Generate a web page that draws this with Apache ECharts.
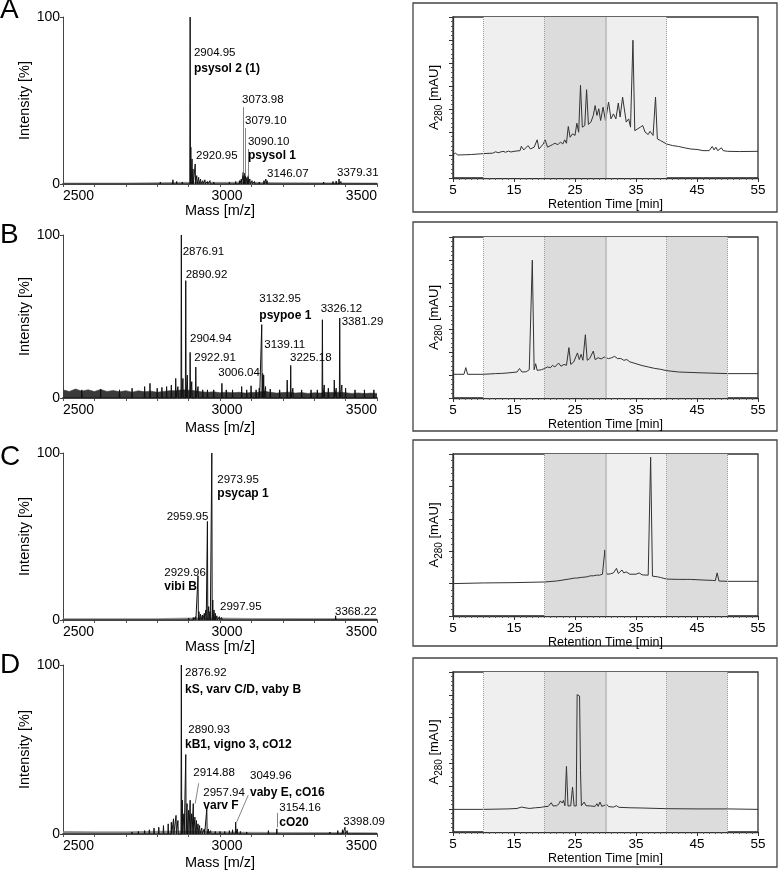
<!DOCTYPE html>
<html><head><meta charset="utf-8">
<script src="https://cdn.jsdelivr.net/npm/echarts@6/dist/echarts.min.js"></script>
<style>html,body{margin:0;padding:0;background:#fff}#c{width:781px;height:871px}</style>
</head><body><div id="c"></div>
<script>
const FONT = '"Liberation Sans", Arial, sans-serif';
const panelLetters = ['A', 'B', 'C', 'D'];
const massTickLabels = [2500, 3000, 3500];
const rtTickLabels = [5, 15, 25, 35, 45, 55];

// ---- mass spectra: [m/z, intensity %] ----
const peaksA = [[2750,0.8],[2810,1.2],[2850,2.5],[2862,1.5],[2880,1.2],[2904.95,100],[2907,22],[2911,15],[2914,9],[2921,12],[2926,5],[2932,4],[2938,3],[2945,2],[2952,2.5],[2960,1.5],[2968,2],[2980,1.2],[2995,1],[3010,1],[3030,1.2],[3050,1.5],[3062,2],[3068,3],[3074,7],[3077,6.5],[3081,5],[3086,4],[3090,5],[3095,3],[3102,2],[3110,1.5],[3125,1.2],[3140,2],[3146,3],[3150,2],[3170,1],[3200,1],[3250,0.8],[3300,0.8],[3330,1.2],[3360,1.5],[3370,1.8],[3379,3],[3385,1.5],[3420,0.8],[3460,0.8]];
const peaksB = [[2560,5],[2620,5.5],[2680,5],[2720,6],[2760,7],[2777,9],[2800,6],[2815,6.5],[2830,7],[2845,8],[2859,12],[2866,7],[2876.91,100],[2882,12],[2890.92,72],[2896,14],[2904.94,28],[2910,10],[2922.91,19],[2930,7],[2945,5],[2960,5],[2980,5],[3006.04,9],[3020,5],[3040,5],[3069,7],[3085,5],[3099,7.5],[3115,5],[3125,6],[3132.95,45],[3136,15],[3139.11,14],[3145,7],[3160,5.5],[3190,5],[3214,11],[3225.18,20],[3232,6],[3260,5],[3290,5],[3310,5],[3326.12,48],[3332,8],[3345,6],[3364,11],[3370,6],[3381.29,49],[3388,8],[3400,6],[3430,5],[3460,5],[3490,5]];
const peaksC = [[2700,0.5],[2800,0.8],[2860,1.0],[2900,1.2],[2915,1.5],[2922,2],[2929.96,26.5],[2933,5],[2938,3.5],[2944,3],[2950,4],[2955,6],[2959.95,59],[2964,8],[2968,5],[2973.95,100],[2977,12],[2981,6],[2985,4],[2990,2.5],[2997.95,2],[3005,1.5],[3020,1],[3040,0.8],[3060,0.8],[3100,0.6],[3150,0.8],[3200,0.5],[3300,0.5],[3360,1],[3368.22,2.5],[3375,1],[3420,0.6]];
const peaksD = [[2560,0.5],[2620,0.6],[2680,0.8],[2720,1.2],[2740,1.5],[2760,2],[2775,2.5],[2790,3.5],[2805,4],[2820,5],[2835,6],[2845,7],[2852,9],[2860,11],[2866,8],[2876.92,100],[2880,20],[2885,12],[2890.93,47],[2895,18],[2900,14],[2905,20],[2910,12],[2914.88,18],[2920,10],[2925,8],[2930,6],[2935,5],[2942,3.5],[2950,3],[2957.94,15],[2963,3],[2970,2],[2985,1.5],[3000,1.5],[3015,1.5],[3030,2],[3040,2.5],[3049.96,7],[3055,3],[3065,1.5],[3085,1.2],[3110,1],[3130,1],[3154.16,2],[3181,3],[3200,0.8],[3250,0.8],[3300,0.8],[3350,1.2],[3375,2],[3390,2.5],[3398.09,4],[3405,2],[3420,1],[3450,0.8]];

// baseline / noise envelopes [m/z, level %]
const noiseA = [[2500,0.6],[2700,0.6],[2800,0.8],[2900,1],[3000,1],[3100,1],[3200,0.8],[3500,0.6]];
const noiseB = [[2500,5],[2520,4],[2540,5.5],[2560,4.2],[2580,5],[2600,4],[2620,5.2],[2640,4],[2660,4.6],[2680,3.8],[2700,4.5],[2720,3.6],[2740,4.4],[2760,3.8],[2780,4.2],[2800,3.5],[2820,4],[2840,4.5],[2860,4.5],[2880,5],[2900,4.8],[2920,4.5],[2940,3.8],[2960,3.5],[2980,3.8],[3000,3.2],[3020,3.6],[3040,3.2],[3060,3.5],[3080,3],[3100,3.4],[3120,3.5],[3140,4.2],[3160,3.5],[3180,3],[3200,3.3],[3220,3.6],[3240,3],[3260,3.3],[3280,2.8],[3300,3.2],[3320,3],[3340,3.5],[3360,3.4],[3380,3.6],[3400,3.2],[3420,2.8],[3440,3.1],[3460,2.7],[3480,3],[3500,2.8]];
const noiseC = [[2500,0.8],[2800,0.8],[2900,1.2],[3000,1.2],[3100,0.9],[3500,0.8]];
const noiseD = [[2500,1.5],[2600,1.3],[2700,1.3],[2800,1.6],[2900,1.8],[3000,1.3],[3100,1],[3200,0.9],[3500,0.8]];

// peak annotations [m/z, intensity, text, bold, align]
const labelsA = [[2917,78.4,'2904.95',0],[2917,68.9,'psysol 2 (1)',1],[3070,50.3,'3073.98',0],[3079.6,37.7,'3079.10',0],[3089,25.1,'3090.10',0],[3089,16.8,'psysol 1',1],[2923.6,16.8,'2920.95',0],[3149.7,6.0,'3146.07',0],[3372.6,6.6,'3379.31',0]];
const labelsB = [[2881.2,89.8,'2876.91',0],[2890.8,75.5,'2890.92',0],[3125.2,60.6,'3132.95',0],[3125.2,50.3,'psypoe 1',1],[3320.7,55.0,'3326.12',0],[3387.6,46.8,'3381.29',0],[2904.5,36.0,'2904.94',0],[3141.1,32.5,'3139.11',0],[2918.2,24.4,'2922.91',0],[3222.9,24.4,'3225.18',0],[2994.6,15.2,'3006.04',0]];
const labelsC = [[2991.4,83.8,'2973.95',0],[2991.4,75.9,'psycap 1',1],[2962.7,61.9,'2959.95',0,'right'],[2822.6,28.0,'2929.96',0],[2822.6,19.9,'vibi B',1],[3000,8.0,'2997.95',0],[3366.2,5.0,'3368.22',0]];
const labelsD = [[2888.5,95.1,'2876.92',0],[2888.5,85.3,'kS, varv C/D, vaby B',1],[2899,61.8,'2890.93',0],[2888.5,52.9,'kB1, vigno 3, cO12',1],[2915,36.3,'2914.88',0],[2946.8,24.1,'2957.94',0],[2946.8,16.6,'varv F',1],[3095.5,34.3,'3049.96',0],[3095.5,24.5,'vaby E, cO16',1],[3188.9,15.7,'3154.16',0],[3188.9,6.9,'cO20',1],[3392.7,7.2,'3398.09',0]];

const leadersA = [[[3073,46],[3073,5]],[[3082,33.5],[3082,5]],[[3090,21],[3090,4]]];
const leadersB = [];
const leadersC = [];
const leadersD = [[[2932,30],[2921,18]],[[3090,23],[3053,7]],[[3181,12.5],[3181,4]]];

// ---- chromatograms: [retention time min, A280 (axis units)] ----
const chromA = [[5,1.02],[5.4,1.08],[5.8,1.00],[8,1.02],[10,1.06],[11.5,1.08],[12,1.14],[12.4,1.10],[13.2,1.16],[13.6,1.12],[14.1,1.17],[14.5,1.13],[15,1.16],[16,1.19],[16.2,1.38],[16.6,1.22],[17.3,1.41],[17.7,1.26],[18.3,1.34],[18.8,1.66],[19.1,1.26],[19.8,1.48],[20.1,1.66],[20.5,1.34],[21.3,1.45],[21.7,1.51],[22.2,1.45],[22.6,1.56],[23,1.48],[23.3,1.66],[23.6,1.51],[23.9,2.24],[24.2,1.77],[24.6,1.92],[25,1.85],[25.3,2.38],[25.6,1.99],[25.9,4.03],[26.2,2.21],[26.6,2.28],[26.9,3.84],[27.2,2.33],[27.6,2.43],[28,2.72],[28.3,3.15],[28.6,2.72],[28.9,3.01],[29.2,2.50],[29.6,3.08],[30,2.50],[30.5,3.30],[30.9,2.57],[31.3,2.79],[31.7,2.57],[32.1,3.26],[32.4,2.65],[32.8,3.52],[33.1,3.59],[33.4,2.43],[33.8,2.57],[34.1,2.21],[34.5,5.99],[34.8,2.06],[35.3,2.14],[35.7,2.21],[36.1,2.28],[36.5,1.99],[37,1.89],[37.3,2.03],[37.8,1.85],[38.2,3.52],[38.5,1.70],[39,1.63],[40,1.48],[41,1.41],[42,1.37],[43,1.31],[44,1.26],[45,1.24],[46,1.19],[47,1.19],[47.5,1.37],[47.8,1.22],[48.1,1.34],[48.4,1.19],[49,1.31],[49.3,1.19],[50,1.16],[52,1.15],[55,1.16]];
const chromB = [[5,1.03],[6.8,1.03],[7.1,1.32],[7.4,1.03],[10,1.03],[12,1.06],[13,1.07],[14,1.09],[15.5,1.13],[15.9,1.28],[16.3,1.13],[17,1.14],[17.5,1.23],[17.8,1.17],[18.0,5.99],[18.3,1.23],[18.55,1.49],[18.8,1.20],[19.5,1.23],[20,1.28],[20.5,1.35],[21,1.32],[21.3,1.42],[21.7,1.35],[22.3,1.52],[22.7,1.38],[23.2,1.46],[23.6,1.42],[24.0,2.19],[24.3,1.46],[24.8,1.57],[25.1,1.64],[25.4,1.96],[25.7,1.67],[26.0,1.90],[26.3,1.64],[26.7,2.75],[27.0,1.64],[27.4,1.71],[28.0,2.04],[28.3,1.67],[28.8,1.75],[29.3,1.70],[29.8,1.78],[30.1,1.86],[30.5,1.71],[31,1.75],[31.5,1.81],[32,1.71],[32.5,1.72],[33,1.64],[33.5,1.67],[34,1.57],[35,1.49],[36,1.41],[37,1.35],[38,1.29],[39,1.25],[40,1.19],[42,1.13],[45,1.10],[50,1.06],[55,1.06]];
const chromC = [[5,1.00],[10,1.02],[15,1.03],[20,1.05],[22,1.08],[24,1.14],[24.9,1.17],[25.1,1.22],[25.3,1.17],[26,1.19],[27,1.21],[27.5,1.24],[28,1.24],[28.5,1.26],[29,1.26],[29.5,1.29],[29.9,2.04],[30.2,1.29],[30.8,1.30],[31.3,1.33],[31.8,1.47],[32.1,1.31],[32.7,1.42],[33.0,1.33],[33.4,1.36],[34,1.29],[35,1.29],[35.5,1.33],[36,1.27],[37,1.26],[37.4,4.90],[37.7,1.23],[38.5,1.21],[39,1.19],[40,1.14],[42,1.13],[43.5,1.13],[43.7,1.18],[43.9,1.13],[46,1.11],[47.5,1.10],[47.8,1.13],[48.0,1.09],[48.3,1.33],[48.6,1.08],[50,1.07],[55,1.07]];
const chromD = [[5,0.99],[10,0.99],[14,1.01],[15.5,1.03],[16.2,1.09],[16.5,1.02],[17.5,1.03],[18.5,1.06],[19.5,1.08],[20,1.11],[20.3,1.18],[20.6,1.12],[21.1,1.28],[21.4,1.14],[22,1.15],[22.4,1.24],[22.6,1.36],[22.9,1.27],[23.1,1.38],[23.35,1.15],[23.6,2.87],[23.85,1.14],[24.3,1.15],[24.6,1.97],[24.85,1.14],[25.2,1.14],[25.35,6.01],[25.65,6.01],[25.75,5.95],[25.85,5.95],[25.9,2.70],[26.05,1.15],[26.5,1.31],[26.8,1.15],[27.5,1.14],[28.3,1.12],[28.6,1.24],[28.8,1.12],[29.1,1.31],[29.4,1.12],[30.2,1.21],[30.5,1.11],[31.3,1.09],[31.8,1.15],[32.2,1.08],[34,1.06],[36,1.05],[40,1.02],[45,1.01],[50,1.01],[55,0.99]];

// fraction shading [from, to, dark?]
const fractionsA = [[10,20,0],[20,30,1],[30,40,0]];
const fractionsB = [[10,20,0],[20,30,1],[30,40,0],[40,50,1]];
const fractionsC = [[20,30,1],[30,40,0],[40,50,1]];
const fractionsD = [[10,20,0],[20,30,1],[30,40,0],[40,50,1]];
const chromMax = [7, 7, 5, 7];

// ---- layout ----
const leftGrids = [{top:17,h:167},{top:235,h:163},{top:453,h:167},{top:665,h:170}];
const rightGrids = [{top:17,h:161},{top:237,h:161},{top:454,h:162},{top:672,h:160}];
const boxes = [{y:3,h:209},{y:222,h:209},{y:440,h:206},{y:658,h:209}];
const massNameGap = [19, 22, 17, 21];
const rtNameGap = [18, 19, 18, 20];
const letterY = [11, 236, 458, 666];

const spectra = [peaksA, peaksB, peaksC, peaksD];
const noises = [noiseA, noiseB, noiseC, noiseD];
const labelsAll = [labelsA, labelsB, labelsC, labelsD];
const leadersAll = [leadersA, leadersB, leadersC, leadersD];
const chroms = [chromA, chromB, chromC, chromD];
const fractions = [fractionsA, fractionsB, fractionsC, fractionsD];

function sticks(peaks) {
  const out = [[2500, 0]];
  peaks.forEach(([m, h]) => { out.push([m - 1.2, 0], [m, h], [m + 1.2, 0]); });
  out.push([3500, 0]);
  return out;
}

const grid = [], xAxis = [], yAxis = [], series = [], graphic = [];
for (let i = 0; i < 4; i++) {
  const L = leftGrids[i];
  grid.push({left: 63, width: 314, top: L.top, height: L.h});
  xAxis.push({
    type: 'value', gridIndex: i, min: 2500, max: 3500, interval: 100,
    axisLine: {lineStyle: {color: '#555', width: 2}},
    axisTick: {length: 3, lineStyle: {color: '#555'}},
    splitLine: {show: false},
    axisLabel: {
      margin: 5, fontSize: 14, color: '#000', fontFamily: FONT,
      alignMinLabel: 'left', alignMaxLabel: 'right',
      formatter: v => massTickLabels.includes(v) ? (v === 3000 ? '{m|' + v + '}' : String(v)) : '',
      rich: {m: {fontSize: 14, fontFamily: FONT, color: '#000', padding: [0, 0, 0, 14]}}
    },
    name: 'Mass [m/z]', nameLocation: 'middle', nameGap: massNameGap[i],
    nameTextStyle: {fontSize: 14.5, color: '#000', fontFamily: FONT}
  });
  yAxis.push({
    type: 'value', gridIndex: i, min: 0, max: 100, interval: 100,
    axisLine: {show: true, lineStyle: {color: '#444', width: 1}},
    axisTick: {show: true, length: 3, lineStyle: {color: '#444'}},
    splitLine: {show: false},
    axisLabel: {margin: 3, fontSize: 14, color: '#000', fontFamily: FONT},
    name: 'Intensity [%]', nameLocation: 'middle', nameGap: 6,
    nameTextStyle: {fontSize: 14.5, color: '#000', fontFamily: FONT}
  });
  series.push({type: 'line', xAxisIndex: i, yAxisIndex: i, data: noises[i], symbol: 'none', silent: true,
    lineStyle: {width: 0.6, color: i === 1 ? '#3a3a3a' : '#777'}, areaStyle: {color: i === 1 ? '#3a3a3a' : '#888', opacity: 1}, z: 2, animation: false});
  series.push({type: 'line', xAxisIndex: i, yAxisIndex: i, data: sticks(spectra[i]), symbol: 'none', silent: true,
    lineStyle: {width: 1, color: '#111'}, z: 3, animation: false});
  if (leadersAll[i].length) series.push({type: 'lines', coordinateSystem: 'cartesian2d', xAxisIndex: i, yAxisIndex: i, silent: true,
    data: leadersAll[i].map(c => ({coords: c})), lineStyle: {color: '#666', width: 0.8, opacity: 1}, z: 4, animation: false});
  series.push({type: 'scatter', xAxisIndex: i, yAxisIndex: i, symbolSize: 0, silent: true, z: 5, animation: false,
    itemStyle: {color: '#000', opacity: 1},
    data: labelsAll[i].map(l => ({value: [l[0], l[1]], label: {show: true, formatter: l[2], position: [0, 0],
      align: l[4] || 'left', verticalAlign: 'middle', fontSize: l[3] ? 12 : 11.5, fontWeight: l[3] ? 'bold' : 'normal',
      color: '#000', opacity: 1, fontFamily: FONT}}))});
}
for (let i = 0; i < 4; i++) {
  const R = rightGrids[i], gi = 4 + i;
  grid.push({left: 453, width: 305, top: R.top, height: R.h, show: true, borderColor: '#333', borderWidth: 1.3, backgroundColor: 'transparent'});
  xAxis.push({
    type: 'value', gridIndex: gi, min: 5, max: 55, interval: 10,
    axisLine: {lineStyle: {color: '#333', width: 1.3}},
    axisTick: {length: 4, lineStyle: {color: '#333'}},
    minorTick: {show: true, splitNumber: 10, length: 2, lineStyle: {color: '#555'}},
    splitLine: {show: false},
    axisLabel: {margin: 5, fontSize: 13.5, color: '#000', fontFamily: FONT,
      formatter: v => rtTickLabels.includes(v) ? String(v) : ''},
    name: 'Retention Time [min]', nameLocation: 'middle', nameGap: rtNameGap[i],
    nameTextStyle: {fontSize: 12.5, color: '#000', fontFamily: FONT}
  });
  yAxis.push({
    type: 'value', gridIndex: gi, min: 0, max: chromMax[i], interval: 1,
    axisLine: {show: true, lineStyle: {color: '#333', width: 1.3}},
    axisTick: {show: true, length: 4, lineStyle: {color: '#333'}},
    minorTick: {show: true, splitNumber: 5, length: 2, lineStyle: {color: '#555'}},
    splitLine: {show: false}, axisLabel: {show: false},
    name: 'A{s|280} [mAU]', nameLocation: 'middle', nameGap: 9,
    nameTextStyle: {fontSize: 13, color: '#000', fontFamily: FONT,
      rich: {s: {fontSize: 10, color: '#000', fontFamily: FONT, verticalAlign: 'bottom', lineHeight: 20}}}
  });
  const fr = fractions[i];
  const bounds = [];
  fr.forEach(f => { if (!bounds.includes(f[0])) bounds.push(f[0]); if (!bounds.includes(f[1])) bounds.push(f[1]); });
  series.push({
    type: 'line', xAxisIndex: gi, yAxisIndex: gi, data: chroms[i], symbol: 'none', silent: true, animation: false,
    lineStyle: {width: 1, color: '#333'}, z: 3,
    markArea: {silent: true, z: 1, data: fr.map(f => [{xAxis: f[0], itemStyle: {color: f[2] ? '#dcdcdc' : '#efefef'}}, {xAxis: f[1]}])},
    markLine: {silent: true, symbol: 'none', label: {show: false}, animation: false,
      data: bounds.map(b => ({xAxis: b, lineStyle: b === 30 ? {type: 'solid', color: '#b5b5b5', width: 1.5} : {type: 'dotted', color: '#999', width: 1}}))}
  });
  graphic.push({type: 'rect', shape: {x: 413, y: boxes[i].y, width: 364, height: boxes[i].h},
    style: {fill: 'none', stroke: '#444', lineWidth: 1.3}, silent: true});
}
panelLetters.forEach((t, i) => graphic.push({type: 'text', left: 0, top: letterY[i] - 15,
  style: {text: t, fontSize: 28, fontFamily: FONT, fill: '#000'}, silent: true}));

const chart = echarts.init(document.getElementById('c'), null, {renderer: 'canvas'});
chart.setOption({animation: false, backgroundColor: '#fff', grid, xAxis, yAxis, series, graphic});
</script></body></html>
